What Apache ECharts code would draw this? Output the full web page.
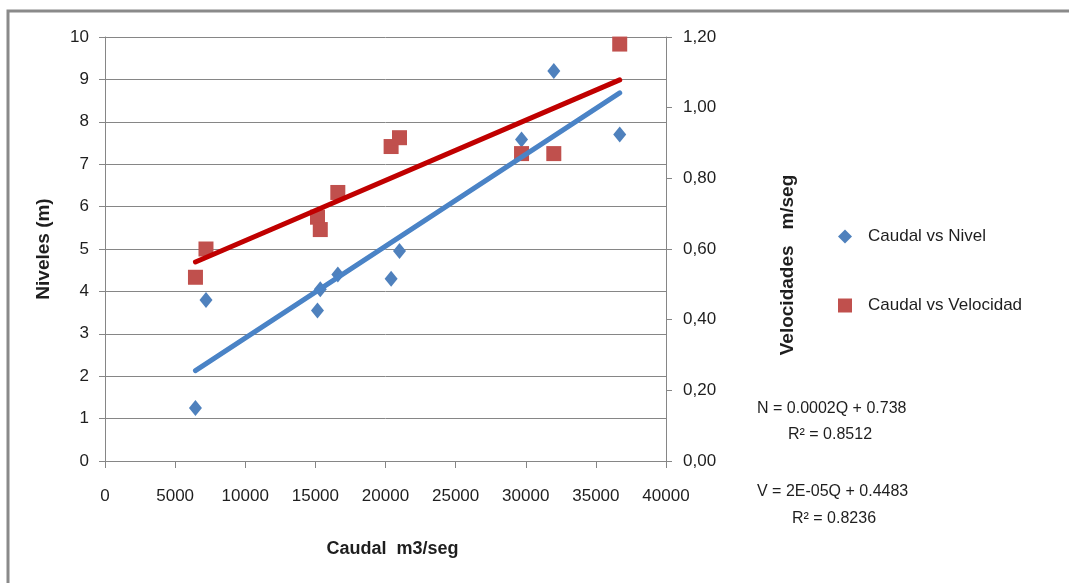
<!DOCTYPE html>
<html>
<head>
<meta charset="utf-8">
<script src="https://cdn.jsdelivr.net/npm/echarts@6/dist/echarts.min.js"></script>
<style>
  html, body { margin: 0; padding: 0; background: #ffffff; }
  #chart { width: 1069px; height: 583px; }
</style>
</head>
<body>
<div id="chart"></div>
<script>
// Caudal (m3/seg) for each measurement
const caudal = [6450, 7200, 15150, 15350, 16600, 20400, 21000, 29700, 32000, 36700];
// Nivel (m) measured at each caudal
const nivel = [1.25, 3.8, 3.55, 4.05, 4.4, 4.3, 4.95, 7.58, 9.2, 7.7];
// Velocidad (m/seg) measured at each caudal
const velocidad = [0.52, 0.6, 0.69, 0.655, 0.76, 0.89, 0.915, 0.87, 0.87, 1.18];

const seriesNames = ['Caudal vs Nivel', 'Caudal vs Velocidad'];
const equationLines = ['N = 0.0002Q + 0.738', 'R\u00b2 = 0.8512', 'V = 2E-05Q + 0.4483', 'R\u00b2 = 0.8236'];

// least-squares line through the points, returned as its two end points
function linearTrend(xs, ys) {
  const n = xs.length;
  const mx = xs.reduce((a, b) => a + b, 0) / n;
  const my = ys.reduce((a, b) => a + b, 0) / n;
  let sxy = 0, sxx = 0;
  for (let i = 0; i < n; i++) {
    sxy += (xs[i] - mx) * (ys[i] - my);
    sxx += (xs[i] - mx) * (xs[i] - mx);
  }
  const slope = sxy / sxx;
  const icpt = my - slope * mx;
  const x0 = Math.min(...xs), x1 = Math.max(...xs);
  return [[x0, icpt + slope * x0], [x1, icpt + slope * x1]];
}

const pairs = (xs, ys) => xs.map((x, i) => [x, ys[i]]);

const FONT = 'Liberation Sans';
const GRID = '#868686';
const TXT = '#1e1e1e';

const chart = echarts.init(document.getElementById('chart'), null, { renderer: 'canvas' });

chart.setOption({
  backgroundColor: '#ffffff',
  animation: false,
  textStyle: { fontFamily: FONT },
  grid: { left: 105, right: 403, top: 37, bottom: 122 },
  xAxis: {
    type: 'value',
    min: 0, max: 40000, interval: 5000,
    name: 'Caudal  m3/seg',
    nameLocation: 'middle',
    nameGap: 79,
    nameTextStyle: { fontSize: 18, fontWeight: 'bold', color: TXT, fontFamily: FONT, padding: [0, 0, 0, 14] },
    axisLine: { show: true, lineStyle: { color: GRID, width: 1 } },
    axisTick: { show: true, length: 7, lineStyle: { color: GRID } },
    axisLabel: { fontSize: 17, color: TXT, margin: 27, formatter: v => String(v) },
    splitLine: { show: false }
  },
  yAxis: [
    {
      type: 'value',
      min: 0, max: 10, interval: 1,
      position: 'left',
      name: 'Niveles (m)',
      nameLocation: 'middle',
      nameGap: 52,
      nameRotate: 90,
      nameTextStyle: { fontSize: 19, fontWeight: 'bold', color: TXT, fontFamily: FONT },
      axisLine: { show: true, lineStyle: { color: GRID, width: 1 } },
      axisTick: { show: true, length: 6, lineStyle: { color: GRID } },
      axisLabel: { fontSize: 17, color: TXT, margin: 16 },
      splitLine: { show: true, lineStyle: { color: GRID, width: 1 } }
    },
    {
      type: 'value',
      min: 0, max: 1.2, interval: 0.2,
      position: 'right',
      name: 'Velocidades   m/seg',
      nameLocation: 'middle',
      nameGap: 112,
      nameRotate: 90,
      nameTextStyle: { fontSize: 19, fontWeight: 'bold', color: TXT, fontFamily: FONT, padding: [0, 32, 0, 0] },
      axisLine: { show: true, lineStyle: { color: GRID, width: 1 } },
      axisTick: { show: true, length: 6, lineStyle: { color: GRID } },
      axisLabel: {
        fontSize: 17, color: TXT, margin: 17,
        formatter: v => v.toFixed(2).replace('.', ',')
      },
      splitLine: { show: false }
    }
  ],
  legend: {
    orient: 'vertical',
    left: 833,
    top: 223,
    itemWidth: 14,
    itemHeight: 14,
    itemGap: 52,
    textStyle: { fontSize: 17, color: TXT, fontFamily: FONT, padding: [0, 0, 0, 11] },
    data: [
      { name: seriesNames[0], icon: 'diamond' },
      { name: seriesNames[1], icon: 'rect' }
    ]
  },
  series: [
    {
      name: seriesNames[0],
      type: 'scatter',
      yAxisIndex: 0,
      symbol: 'diamond',
      symbolSize: [13, 16],
      itemStyle: { color: '#4f81bd', opacity: 1 },
      data: pairs(caudal, nivel),
      z: 2
    },
    {
      name: seriesNames[1],
      type: 'scatter',
      yAxisIndex: 1,
      symbol: 'rect',
      symbolSize: 15,
      itemStyle: { color: '#c0504d', opacity: 1 },
      data: pairs(caudal, velocidad),
      z: 2
    },
    {
      name: 'Tendencia nivel',
      type: 'line',
      yAxisIndex: 0,
      showSymbol: false,
      symbol: 'none',
      lineStyle: { color: '#4a83c6', width: 5, cap: 'round' },
      data: linearTrend(caudal, nivel),
      z: 3,
      silent: true
    },
    {
      name: 'Tendencia velocidad',
      type: 'line',
      yAxisIndex: 1,
      showSymbol: false,
      symbol: 'none',
      lineStyle: { color: '#c00000', width: 5, cap: 'round' },
      data: linearTrend(caudal, velocidad),
      z: 3,
      silent: true
    }
  ],
  graphic: [
    // chart-area frame (left and top edges fall inside the page)
    {
      type: 'rect',
      shape: { x: 8, y: 11, width: 1200, height: 700 },
      style: { fill: 'none', stroke: '#8a8a8a', lineWidth: 3 },
      silent: true
    },
    {
      type: 'text', left: 757, top: 401,
      style: { text: equationLines[0], font: '16px "Liberation Sans"', fill: TXT }
    },
    {
      type: 'text', left: 788, top: 427,
      style: { text: equationLines[1], font: '16px "Liberation Sans"', fill: TXT }
    },
    {
      type: 'text', left: 757, top: 484,
      style: { text: equationLines[2], font: '16px "Liberation Sans"', fill: TXT }
    },
    {
      type: 'text', left: 792, top: 511,
      style: { text: equationLines[3], font: '16px "Liberation Sans"', fill: TXT }
    }
  ]
});
</script>
</body>
</html>
